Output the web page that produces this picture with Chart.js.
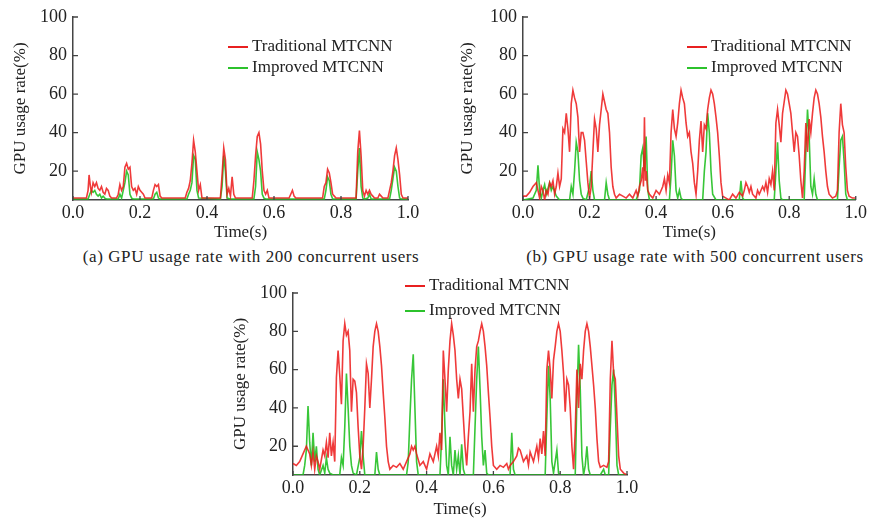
<!DOCTYPE html>
<html>
<head>
<meta charset="utf-8">
<script src="https://cdn.jsdelivr.net/npm/chart.js@4.4.1/dist/chart.umd.min.js"></script>
<style>
body{margin:0;background:#fff;width:869px;height:521px;overflow:hidden;position:relative;font-family:"Liberation Serif",serif;color:#222}
canvas{position:absolute}
.legend{position:absolute;font-size:17px}
.legend div{white-space:nowrap}
.legend span{display:inline-block;width:20px;height:2px;vertical-align:middle;margin-right:4px}
.caption{position:absolute;width:440px;text-align:center;font-size:17px;line-height:20px;letter-spacing:0.6px}
</style>
</head>
<body>
<canvas id="chartA" width="430" height="245" style="left:0;top:0"></canvas>
<canvas id="chartB" width="422" height="245" style="left:447px;top:0"></canvas>
<canvas id="chartC" width="430" height="246" style="left:220px;top:276px"></canvas>

<div class="legend" style="left:228px;top:35px;line-height:21px">
  <div><span style="background:#e82020"></span>Traditional MTCNN</div>
  <div><span style="background:#2cc22c"></span>Improved MTCNN</div>
</div>
<div class="legend" style="left:687px;top:35px;line-height:21px">
  <div><span style="background:#e82020"></span>Traditional MTCNN</div>
  <div><span style="background:#2cc22c"></span>Improved MTCNN</div>
</div>
<div class="legend" style="left:405px;top:272px;line-height:25px">
  <div><span style="background:#e82020"></span>Traditional MTCNN</div>
  <div><span style="background:#2cc22c"></span>Improved MTCNN</div>
</div>

<div class="caption" style="left:31px;top:247px">(a) GPU usage rate with 200 concurrent users</div>
<div class="caption" style="left:475px;top:247px">(b) GPU usage rate with 500 concurrent users</div>

<script>
// time (s) / GPU usage (%)
const timeTicks = [0, 0.2, 0.4, 0.6, 0.8, 1.0];
const usageTicks = [20, 40, 60, 80, 100];
const seriesNames = ['Traditional MTCNN', 'Improved MTCNN'];

// (a) 200 users
const tradA = [[0,6],[0.04,6],[0.045,10],[0.048,18],[0.052,12],[0.055,9],[0.06,14],[0.065,12],[0.07,14],[0.075,11],
  [0.08,10],[0.085,12],[0.09,9],[0.095,8],[0.1,11],[0.105,10],[0.11,7],[0.115,6],[0.13,6],[0.135,8],[0.14,13],[0.145,10],
  [0.15,12],[0.155,22],[0.16,24],[0.165,21],[0.17,22],[0.175,12],[0.18,10],[0.185,11],[0.19,8],[0.195,12],[0.2,10],
  [0.205,9],[0.21,8],[0.215,6],[0.235,6],[0.24,10],[0.245,13],[0.25,12],[0.255,13],[0.26,7],[0.265,6],[0.335,6],[0.34,9],
  [0.345,11],[0.35,15],[0.355,24],[0.36,36],[0.365,30],[0.37,20],[0.375,10],[0.38,13],[0.385,6],[0.44,6],[0.445,18],
  [0.45,32],[0.455,26],[0.46,8],[0.465,11],[0.47,7],[0.475,17],[0.48,8],[0.485,6],[0.535,6],[0.54,15],[0.545,28],[0.55,38],
  [0.555,40],[0.56,34],[0.565,20],[0.57,10],[0.575,8],[0.58,10],[0.585,6],[0.645,6],[0.65,8],[0.655,10],[0.66,7],[0.665,6],
  [0.745,6],[0.75,12],[0.755,14],[0.76,21],[0.765,19],[0.77,14],[0.775,8],[0.78,7],[0.785,6],[0.845,6],[0.85,30],[0.855,41],
  [0.86,28],[0.865,10],[0.87,7],[0.875,10],[0.88,8],[0.885,10],[0.89,8],[0.895,7],[0.9,6],[0.91,6],[0.915,8],[0.92,7],
  [0.925,6],[0.94,6],[0.945,10],[0.95,14],[0.955,20],[0.96,28],[0.965,32],[0.97,26],[0.975,18],[0.98,8],[0.985,6],[1.0,6]];
const impA = [[0,5.5],[0.045,5.5],[0.05,8],[0.055,10],[0.06,9],[0.065,10],[0.07,8],[0.075,7],[0.08,8],[0.085,6],[0.09,7],
  [0.095,6],[0.1,5.5],[0.135,5.5],[0.14,8],[0.145,6],[0.15,10],[0.155,14],[0.16,20],[0.165,18],[0.17,8],[0.175,6],[0.18,5.5],
  [0.24,5.5],[0.245,8],[0.25,9],[0.255,6],[0.26,5.5],[0.34,5.5],[0.345,8],[0.35,10],[0.355,14],[0.36,28],[0.365,26],[0.37,10],
  [0.375,6],[0.44,5.5],[0.445,12],[0.45,28],[0.455,20],[0.46,6],[0.47,5.5],[0.54,5.5],[0.545,12],[0.55,30],[0.555,26],
  [0.56,20],[0.565,8],[0.57,6],[0.575,5.5],[0.75,5.5],[0.755,10],[0.76,17],[0.765,15],[0.77,8],[0.775,5.5],[0.845,5.5],
  [0.85,20],[0.855,32],[0.86,12],[0.865,6],[0.87,5.5],[0.88,6],[0.885,8],[0.89,5.5],[0.945,5.5],[0.95,10],[0.955,16],
  [0.96,22],[0.965,20],[0.97,12],[0.975,6],[0.98,5.5],[1.0,5.5]];

// (b) 500 users
const tradB = [[0,7],[0.01,7],[0.02,9],[0.03,12],[0.04,14],[0.045,10],[0.05,6],[0.055,12],[0.06,10],[0.065,5],[0.07,10],
  [0.075,8],[0.08,14],[0.085,12],[0.09,15],[0.095,8],[0.1,12],[0.105,19],[0.11,12],[0.115,16],[0.12,42],[0.125,40],[0.13,50],
  [0.135,42],[0.14,30],[0.145,55],[0.15,62],[0.155,58],[0.16,55],[0.165,48],[0.17,30],[0.175,40],[0.18,40],[0.185,36],
  [0.19,25],[0.195,14],[0.2,6],[0.205,12],[0.21,30],[0.215,47],[0.22,42],[0.225,30],[0.23,44],[0.235,52],[0.24,60],[0.245,56],
  [0.25,52],[0.255,50],[0.26,40],[0.265,22],[0.27,12],[0.275,8],[0.28,6],[0.29,8],[0.3,7],[0.31,6],[0.32,8],[0.33,6],[0.34,10],
  [0.345,7],[0.35,12],[0.355,15],[0.36,22],[0.362,12],[0.365,48],[0.368,15],[0.37,20],[0.375,10],[0.38,8],[0.39,6],[0.4,10],
  [0.41,8],[0.42,12],[0.425,16],[0.43,10],[0.435,18],[0.44,14],[0.445,40],[0.45,52],[0.455,42],[0.46,38],[0.465,45],[0.47,55],
  [0.475,62],[0.48,58],[0.485,55],[0.49,45],[0.495,38],[0.5,40],[0.505,30],[0.51,24],[0.515,14],[0.52,8],[0.525,20],[0.53,36],
  [0.535,46],[0.54,30],[0.545,44],[0.55,42],[0.555,52],[0.56,58],[0.565,62],[0.57,60],[0.575,55],[0.58,48],[0.585,40],
  [0.59,28],[0.595,14],[0.6,7],[0.61,6],[0.62,5],[0.63,8],[0.64,6],[0.65,9],[0.66,7],[0.665,10],[0.67,14],[0.675,12],[0.68,9],
  [0.685,12],[0.69,8],[0.7,6],[0.705,10],[0.71,8],[0.72,12],[0.725,10],[0.73,14],[0.735,9],[0.74,16],[0.745,13],[0.75,20],
  [0.755,10],[0.76,45],[0.765,52],[0.77,44],[0.775,35],[0.78,50],[0.785,56],[0.79,62],[0.795,60],[0.8,55],[0.805,50],
  [0.81,40],[0.815,30],[0.82,40],[0.825,38],[0.83,28],[0.835,15],[0.84,6],[0.845,20],[0.85,45],[0.855,30],[0.86,47],[0.865,40],
  [0.87,50],[0.875,58],[0.88,62],[0.885,60],[0.89,55],[0.895,48],[0.9,38],[0.905,30],[0.91,20],[0.915,12],[0.92,8],[0.93,6],
  [0.94,7],[0.945,10],[0.95,40],[0.955,55],[0.96,44],[0.965,40],[0.97,22],[0.975,10],[0.98,7],[0.99,6],[1.0,6]];
const impB = [[0,5],[0.03,6],[0.04,10],[0.045,23],[0.05,10],[0.055,6],[0.06,10],[0.065,13],[0.07,8],[0.08,14],[0.085,10],
  [0.09,12],[0.1,7],[0.11,5],[0.14,5],[0.145,12],[0.15,8],[0.155,20],[0.16,35],[0.165,30],[0.17,15],[0.175,8],[0.18,6],
  [0.19,5],[0.2,12],[0.205,20],[0.21,10],[0.215,5],[0.245,5],[0.25,14],[0.255,8],[0.26,5],[0.34,5],[0.35,10],[0.355,28],
  [0.36,32],[0.365,20],[0.37,38],[0.375,10],[0.38,5],[0.44,5],[0.445,18],[0.45,36],[0.455,28],[0.46,10],[0.465,6],[0.47,10],
  [0.475,6],[0.48,5],[0.54,5],[0.545,20],[0.55,30],[0.555,50],[0.56,40],[0.565,20],[0.57,8],[0.58,5],[0.65,5],[0.655,15],
  [0.66,6],[0.665,5],[0.755,5],[0.76,20],[0.765,35],[0.77,15],[0.775,6],[0.78,5],[0.845,5],[0.85,30],[0.855,52],[0.86,38],
  [0.865,12],[0.87,8],[0.875,16],[0.88,8],[0.885,5],[0.945,5],[0.95,22],[0.955,36],[0.96,38],[0.965,25],[0.97,8],[0.975,5],[1.0,5]];

// (c) bottom panel
const tradC = [[0,11],[0.01,10],[0.02,12],[0.03,16],[0.04,20],[0.05,16],[0.055,10],[0.06,17],[0.065,8],[0.07,15],[0.075,12],
  [0.08,8],[0.09,18],[0.095,15],[0.1,22],[0.105,14],[0.11,27],[0.115,15],[0.12,22],[0.125,12],[0.13,56],[0.135,70],[0.14,57],
  [0.145,42],[0.15,75],[0.155,84],[0.16,78],[0.165,80],[0.17,70],[0.175,38],[0.18,55],[0.185,54],[0.19,48],[0.195,30],
  [0.2,15],[0.205,8],[0.21,20],[0.215,40],[0.22,63],[0.225,58],[0.23,40],[0.235,55],[0.24,72],[0.245,80],[0.25,84],[0.255,80],
  [0.26,72],[0.265,62],[0.27,48],[0.275,35],[0.28,20],[0.285,12],[0.29,8],[0.3,10],[0.31,9],[0.32,11],[0.33,8],[0.34,12],
  [0.35,16],[0.355,20],[0.36,18],[0.365,20],[0.37,16],[0.38,10],[0.39,12],[0.4,8],[0.41,16],[0.42,12],[0.43,20],[0.435,15],
  [0.44,27],[0.445,18],[0.45,70],[0.455,55],[0.46,38],[0.465,60],[0.47,75],[0.475,84],[0.48,78],[0.485,70],[0.49,55],
  [0.495,45],[0.5,55],[0.505,50],[0.51,35],[0.515,20],[0.52,10],[0.525,25],[0.53,38],[0.535,63],[0.54,38],[0.545,60],
  [0.55,72],[0.555,75],[0.56,80],[0.565,84],[0.57,80],[0.575,72],[0.58,62],[0.585,48],[0.59,35],[0.595,20],[0.6,10],[0.61,8],
  [0.62,10],[0.63,9],[0.64,11],[0.645,8],[0.65,10],[0.66,12],[0.67,15],[0.675,19],[0.68,18],[0.69,12],[0.7,15],[0.705,10],
  [0.71,17],[0.72,12],[0.73,20],[0.735,14],[0.74,24],[0.745,16],[0.75,28],[0.755,15],[0.76,60],[0.765,70],[0.77,60],
  [0.775,45],[0.78,65],[0.785,72],[0.79,80],[0.795,84],[0.8,80],[0.805,70],[0.81,58],[0.815,38],[0.82,55],[0.825,52],[0.83,40],
  [0.835,20],[0.84,8],[0.845,28],[0.85,60],[0.855,40],[0.86,63],[0.865,55],[0.87,70],[0.875,80],[0.88,84],[0.885,80],
  [0.89,72],[0.895,62],[0.9,52],[0.905,40],[0.91,24],[0.915,12],[0.92,9],[0.93,10],[0.94,9],[0.945,12],[0.95,55],[0.955,75],
  [0.96,58],[0.965,55],[0.97,35],[0.975,15],[0.98,8],[0.99,6],[1.0,5]];
const impC = [[0,5],[0.03,5],[0.035,10],[0.04,18],[0.045,41],[0.05,22],[0.055,10],[0.06,27],[0.065,12],[0.07,20],[0.075,8],
  [0.08,5],[0.09,10],[0.095,6],[0.1,14],[0.105,8],[0.11,6],[0.12,5],[0.14,5],[0.145,14],[0.15,10],[0.155,30],[0.16,58],
  [0.165,40],[0.17,20],[0.175,10],[0.18,6],[0.19,5],[0.2,14],[0.205,28],[0.21,15],[0.215,5],[0.245,5],[0.25,17],[0.255,8],
  [0.26,5],[0.34,5],[0.345,12],[0.35,35],[0.355,55],[0.36,68],[0.365,40],[0.37,12],[0.375,5],[0.44,5],[0.445,25],[0.45,55],
  [0.455,30],[0.46,10],[0.465,5],[0.47,25],[0.475,10],[0.48,5],[0.485,18],[0.49,8],[0.495,15],[0.5,5],[0.505,21],[0.51,8],
  [0.515,5],[0.54,5],[0.545,30],[0.55,55],[0.555,72],[0.56,50],[0.565,25],[0.57,10],[0.575,18],[0.58,6],[0.585,5],[0.65,5],
  [0.655,27],[0.66,8],[0.665,5],[0.755,5],[0.76,35],[0.765,62],[0.77,45],[0.775,12],[0.78,6],[0.79,18],[0.795,6],[0.8,5],
  [0.845,5],[0.85,45],[0.855,73],[0.86,50],[0.865,15],[0.87,5],[0.875,10],[0.88,20],[0.885,8],[0.89,5],[0.92,5],[0.93,8],
  [0.935,5],[0.945,5],[0.95,30],[0.955,52],[0.96,60],[0.965,40],[0.97,10],[0.975,5],[1.0,5]];

const RED = 'rgba(236,24,24,0.85)';
const GREEN = 'rgba(34,192,34,0.9)';
const AXIS = '#444';
const font = {family: 'Liberation Serif', size: 17};
const tickFont = {family: 'Liberation Serif', size: 18};

// tick marks point inward in the original
const innerTicks = {
  id: 'innerTicks',
  afterDatasetsDraw(chart) {
    const {ctx, chartArea, scales} = chart;
    ctx.save();
    ctx.strokeStyle = AXIS;
    ctx.lineWidth = 1.3;
    ctx.beginPath();
    usageTicks.forEach(v => {
      const y = scales.y.getPixelForValue(v);
      ctx.moveTo(chartArea.left, y);
      ctx.lineTo(chartArea.left + 5, y);
    });
    timeTicks.forEach(v => {
      const x = scales.x.getPixelForValue(v);
      ctx.moveTo(x, chartArea.bottom);
      ctx.lineTo(x, chartArea.bottom - 4);
    });
    ctx.stroke();
    ctx.restore();
  }
};

function toPoints(arr) {
  return arr.map(p => ({x: p[0], y: p[1]}));
}

function makePanel(id, trad, imp, box) {
  new Chart(document.getElementById(id), {
    type: 'line',
    data: {
      datasets: [
        {label: seriesNames[0], data: toPoints(trad), borderColor: RED, borderWidth: 1.6, pointRadius: 0, tension: 0},
        {label: seriesNames[1], data: toPoints(imp), borderColor: GREEN, borderWidth: 1.6, pointRadius: 0, tension: 0}
      ]
    },
    options: {
      responsive: false,
      animation: false,
      layout: {padding: {top: box.top, right: box.right, left: 0, bottom: 0}},
      plugins: {legend: {display: false}, tooltip: {enabled: false}},
      scales: {
        x: {
          type: 'linear', min: 0, max: 1,
          afterBuildTicks: s => { s.ticks = timeTicks.map(v => ({value: v})); },
          afterFit: s => { s.height = box.xh; },
          ticks: {callback: v => v.toFixed(1), font: tickFont, color: '#222', padding: 2, maxRotation: 0, autoSkip: false},
          grid: {display: false, drawTicks: false},
          border: {display: true, color: AXIS, width: 1.5},
          title: {display: true, text: 'Time(s)', font: font, color: '#222', padding: {top: 0, bottom: 2}}
        },
        y: {
          min: 5, max: 100,
          afterBuildTicks: s => { s.ticks = usageTicks.map(v => ({value: v})); },
          afterFit: s => { s.width = box.yw; },
          ticks: {font: tickFont, color: '#222', padding: 6},
          grid: {display: false, drawTicks: false},
          border: {display: true, color: AXIS, width: 1.5},
          title: {display: true, text: 'GPU usage rate(%)', font: font, color: '#222', padding: {top: 10, bottom: 0}}
        }
      }
    },
    plugins: [innerTicks]
  });
}

makePanel('chartA', tradA, impA, {top: 17, right: 22, yw: 73, xh: 45});
makePanel('chartB', tradB, impB, {top: 17, right: 11, yw: 76, xh: 45});
makePanel('chartC', tradC, impC, {top: 17, right: 23, yw: 73, xh: 47});
</script>
</body>
</html>
